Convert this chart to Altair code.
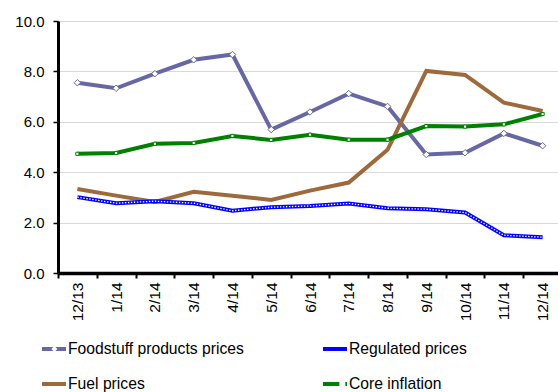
import altair as alt
import pandas as pd

# Monthly year-on-year rates, %
months = ["12/13", "1/14", "2/14", "3/14", "4/14", "5/14", "6/14",
          "7/14", "8/14", "9/14", "10/14", "11/14", "12/14"]
food = [7.55, 7.33, 7.91, 8.46, 8.67, 5.69, 6.39, 7.12, 6.61, 4.70, 4.77, 5.54, 5.05]
regulated = [3.01, 2.77, 2.85, 2.77, 2.47, 2.61, 2.66, 2.76, 2.57, 2.53, 2.40, 1.50, 1.42]
fuel = [3.33, 3.07, 2.82, 3.22, 3.07, 2.90, 3.27, 3.59, 4.89, 8.02, 7.86, 6.76, 6.43]
core = [4.73, 4.76, 5.13, 5.16, 5.44, 5.28, 5.49, 5.29, 5.29, 5.83, 5.81, 5.90, 6.31]

# legend grid is filled column by column
names = ["Foodstuff products prices", "Fuel prices", "Regulated prices", "Core inflation"]
series_vals = [food, fuel, regulated, core]
colors = ["#6767A3", "#9C6A3C", "#0000FF", "#008000"]
widths = [4, 4, 4, 2.5]
EMPTY = "M0,0"
marker_shapes = ["diamond", EMPTY, EMPTY, "square"]
marker_strokes = ["#6767A3", "transparent", "transparent", "#008000"]
marker_sizes = [42, 10, 10, 70]

rows = []
for name, vals in zip(names, series_vals):
    for i, (m, v) in enumerate(zip(months, vals)):
        rows.append({"series": name, "mk": name, "month": m, "idx": i, "value": v})
df = pd.DataFrame(rows)

FONT = "Liberation Sans"

x = alt.X("month:N", sort=months, bandPosition=0.5,
          scale=alt.Scale(type="band", paddingInner=0, paddingOuter=0, range=[0, 504]),
          axis=alt.Axis(title=None, tickBand="extent", labelAngle=-90, labelFontSize=15.5,
                        labelFont=FONT, labelColor="#000", labelPadding=4,
                        domainColor="#000", domainWidth=3.5, tickColor="#000",
                        tickWidth=2, tickSize=5, grid=False))
y = alt.Y("value:Q",
          scale=alt.Scale(domain=[0, 10], nice=False, zero=True),
          axis=alt.Axis(title=None, values=[0, 2, 4, 6, 8, 10], format=".1f",
                        labelFontSize=15, labelFont=FONT, labelColor="#000",
                        labelPadding=9, domainColor="#000", domainWidth=3,
                        tickColor="#000", tickWidth=1.5, tickSize=5,
                        gridColor="#d9d9d9", gridWidth=1))

legend_common = dict(orient="none", legendX=-18, legendY=320, columns=2, title=None,
                     labelFontSize=15.7, labelFont=FONT, labelColor="#000",
                     clipHeight=16, rowPadding=19, padding=0,
                     labelLimit=400, labelOffset=0)

lines = alt.Chart(df).mark_line().encode(
    x=x, y=y,
    color=alt.Color("series:N",
                    scale=alt.Scale(domain=names, range=colors),
                    sort=names,
                    legend=alt.Legend(symbolType="stroke", symbolSize=576,
                                      symbolStrokeWidth=4, columnPadding=77,
                                      **legend_common)),
    strokeWidth=alt.StrokeWidth("series:N", scale=alt.Scale(domain=names, range=widths),
                                legend=None),
    order=alt.Order("idx:Q"),
)

# white dotted core of the regulated-prices line
dots = alt.Chart(df).transform_filter(
    alt.datum.series == "Regulated prices"
).mark_line(color="white", strokeWidth=1.3, strokeDash=[1.4, 1.6]).encode(
    x=x, y=y, order=alt.Order("idx:Q"))

# marker symbols laid over the middle of the legend lines
markers = alt.Chart(df).transform_filter(
    (alt.datum.series == "Foodstuff products prices") | (alt.datum.series == "Core inflation")
).mark_point(filled=True, fill="white", strokeWidth=1, opacity=1).encode(
    x=x, y=y,
    shape=alt.Shape("mk:N", sort=names,
                    scale=alt.Scale(domain=names, range=marker_shapes),
                    legend=alt.Legend(symbolSize=36, symbolFillColor="white",
                                      symbolStrokeWidth=1, symbolOffset=6.5,
                                      labelExpr="''", columnPadding=265,
                                      **legend_common)),
    stroke=alt.Stroke("mk:N", sort=names,
                      scale=alt.Scale(domain=names, range=marker_strokes),
                      legend=None),
    size=alt.Size("mk:N", scale=alt.Scale(domain=names, range=marker_sizes), legend=None),
)

chart = alt.layer(lines, dots, markers).properties(
    width=500, height=252,
    autosize=alt.AutoSizeParams(type="none"),
    padding={"left": 58, "top": 21, "right": 0, "bottom": 119},
).configure_view(stroke=None).resolve_legend(shape="independent", color="independent")

chart.save("out.html", embed_options={"renderer": "svg", "actions": False})
